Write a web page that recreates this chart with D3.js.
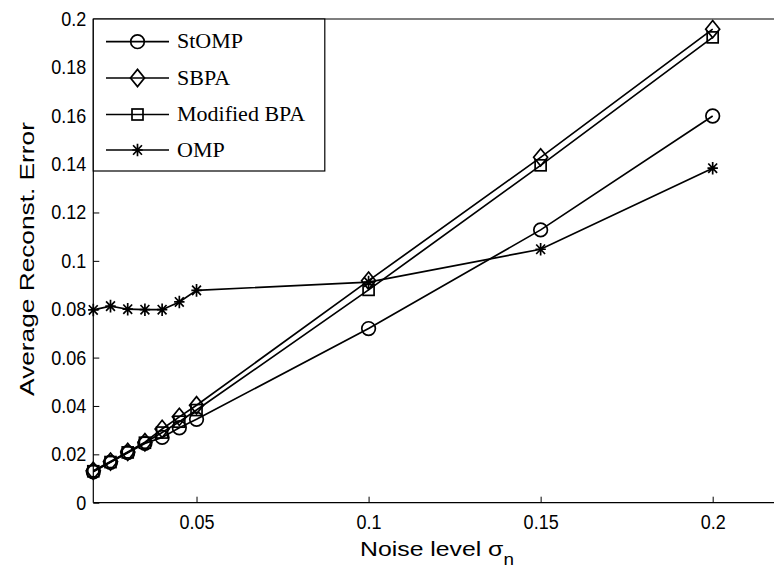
<!DOCTYPE html>
<html><head><meta charset="utf-8">
<script src="https://cdn.jsdelivr.net/npm/d3@7"></script>
<style>
body{margin:0;background:#fff;}
svg{display:block;}
</style></head>
<body>
<svg id="chart" width="774" height="573"></svg>
<script>
const noise = [0.02, 0.025, 0.03, 0.035, 0.04, 0.045, 0.05, 0.1, 0.15, 0.2];
const stomp = [0.0128, 0.0167, 0.0207, 0.0245, 0.0270, 0.0310, 0.0345, 0.0720, 0.1128, 0.1599];
const sbpa  = [0.0132, 0.0170, 0.0210, 0.0250, 0.0305, 0.0355, 0.0403, 0.0918, 0.1428, 0.1958];
const mbpa  = [0.0130, 0.0168, 0.0208, 0.0248, 0.0290, 0.0335, 0.0383, 0.0880, 0.1395, 0.1924];
const omp   = [0.0797, 0.0813, 0.0800, 0.0798, 0.0798, 0.0830, 0.0878, 0.0912, 0.1048, 0.1383];
const seriesNames = ["StOMP", "SBPA", "Modified BPA", "OMP"];
const markerTypes = ["circle", "diamond", "square", "star"];
const xTicks = [0.05, 0.1, 0.15, 0.2];
const yTicks = [0, 0.02, 0.04, 0.06, 0.08, 0.1, 0.12, 0.14, 0.16, 0.18, 0.2];

const svg = d3.select("#chart");
const x = d3.scaleLinear().domain([0.02, 0.22]).range([93.3, 781.5]);
const y = d3.scaleLinear().domain([0, 0.2]).range([502.7, 19]);
const L = {left: x.range()[0], right: x.range()[1], top: y.range()[1], bottom: y.range()[0]};
const SANS = "Liberation Sans, Arial, Helvetica, sans-serif";

// axes
const xAxis = d3.axisBottom(x).tickValues(xTicks).tickSizeInner(-6).tickSizeOuter(0).tickPadding(10)
  .tickFormat(d => d3.format("")(d));
const yAxis = d3.axisLeft(y).tickValues(yTicks).tickSizeInner(-6).tickSizeOuter(0).tickPadding(7)
  .tickFormat(d => d3.format("")(d));

const gx = svg.append("g").attr("transform", `translate(0,${L.bottom})`).call(xAxis);
const gy = svg.append("g").attr("transform", `translate(${L.left},0)`).call(yAxis);
[gx, gy].forEach(g => {
  g.select(".domain").remove();
  g.selectAll("line").attr("stroke", "#000").attr("stroke-width", 1);
  g.selectAll("text").attr("font-family", SANS).attr("font-size", 18).attr("fill", "#000");
});
gx.selectAll("text").attr("y", 0).attr("dy", 0).attr("transform", "translate(0,26.5) scale(1,1.12)");
gy.selectAll("text").attr("transform", "scale(1,1.12)");

// box
const frame = svg.append("g").attr("stroke", "#000").attr("stroke-width", 1.2);
frame.append("line").attr("x1", L.left).attr("x2", L.right).attr("y1", L.bottom).attr("y2", L.bottom);
frame.append("line").attr("x1", L.left).attr("x2", L.right).attr("y1", L.top).attr("y2", L.top);
frame.append("line").attr("x1", L.left).attr("x2", L.left).attr("y1", L.top).attr("y2", L.bottom);

// labels
const xl = svg.append("text").attr("transform", "translate(437,556) scale(1.18,1)").attr("text-anchor", "middle")
  .attr("font-family", SANS).attr("font-size", 21);
xl.append("tspan").text("Noise level σ");
xl.append("tspan").attr("font-size", 16).attr("dy", 9).text("n");
svg.append("text").attr("transform", "translate(34,259) rotate(-90) scale(1.25,1)").attr("text-anchor", "middle")
  .attr("font-family", SANS).attr("font-size", 21)
  .text("Average Reconst. Error");

function drawMarker(g, type, cx, cy) {
  let el;
  if (type === "circle") el = g.append("circle").attr("cx", cx).attr("cy", cy).attr("r", 6.8);
  else if (type === "diamond") el = g.append("path").attr("d", `M${cx},${cy-8.6}L${cx+7},${cy}L${cx},${cy+8.6}L${cx-7},${cy}Z`);
  else if (type === "square") el = g.append("rect").attr("x", cx-5.5).attr("y", cy-5.5).attr("width", 11).attr("height", 11);
  else {
    const ry = 6.3, rx = 5.2, dx = rx*0.85, dy = ry*0.75;
    el = g.append("path").attr("d", `M${cx-rx},${cy}H${cx+rx}M${cx},${cy-ry}V${cy+ry}M${cx-dx},${cy-dy}L${cx+dx},${cy+dy}M${cx-dx},${cy+dy}L${cx+dx},${cy-dy}`);
  }
  el.attr("fill", "none").attr("stroke", "#000").attr("stroke-width", 1.7);
}

const allSeries = [stomp, sbpa, mbpa, omp];
const line = d3.line().x(d => x(d[0])).y(d => y(d[1]));
const plot = svg.append("g");
allSeries.forEach((vals, i) => {
  const pts = noise.map((n, j) => [n, vals[j]]);
  plot.append("path").attr("d", line(pts)).attr("fill", "none").attr("stroke", "#000").attr("stroke-width", 1.7);
  const mg = plot.append("g");
  pts.forEach(p => drawMarker(mg, markerTypes[i], x(p[0]), y(p[1])));
});

// legend
const lg = svg.append("g");
lg.append("rect").attr("x", 93.3).attr("y", 19).attr("width", 231.5).attr("height", 152)
  .attr("fill", "#fff").attr("stroke", "#000").attr("stroke-width", 1.2);
const rowY = [41.7, 78, 114.5, 150];
seriesNames.forEach((name, i) => {
  lg.append("line").attr("x1", 106).attr("x2", 169).attr("y1", rowY[i]).attr("y2", rowY[i]).attr("stroke", "#000").attr("stroke-width", 1.7);
  drawMarker(lg, markerTypes[i], 137.5, rowY[i]);
  lg.append("text").attr("x", 177).attr("y", rowY[i] + 6.5)
    .attr("font-family", "Liberation Serif, Times New Roman, serif").attr("font-size", 22).text(name);
});
</script>
</body></html>
